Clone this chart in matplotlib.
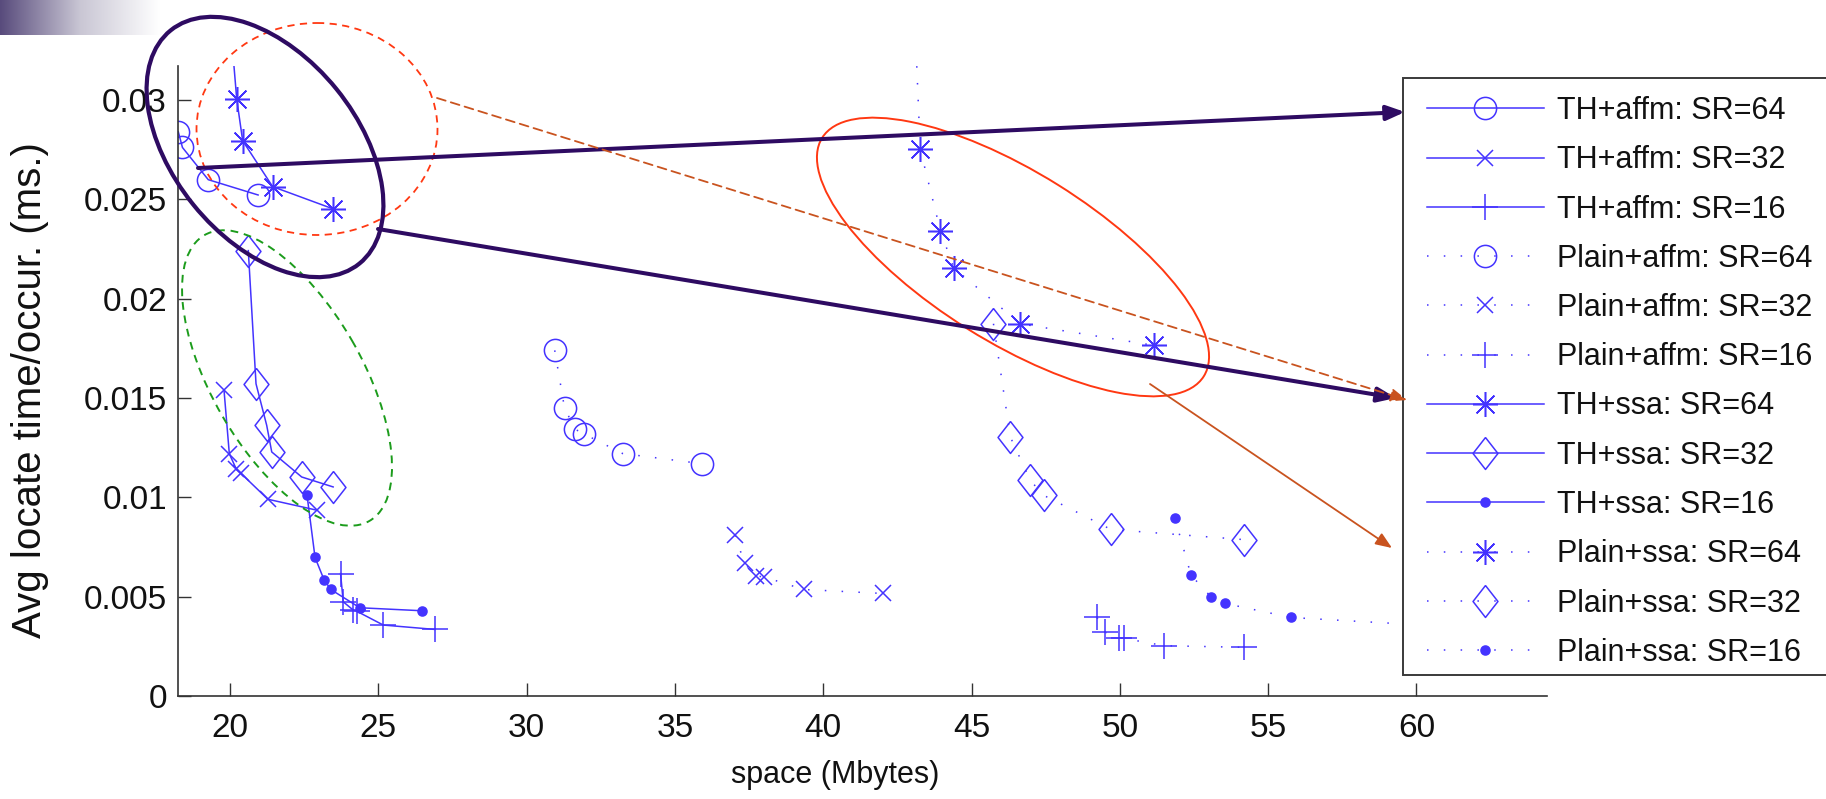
#!/usr/bin/env python3
# coding: utf-8
"""Avg locate time vs space for TH / Plain with affm and ssa, slide screenshot."""
import numpy as np
import matplotlib
matplotlib.use('AGG')
import matplotlib.pyplot as plt
from matplotlib.patches import Ellipse, Rectangle

plt.rcParams['font.family'] = ['Liberation Sans', 'DejaVu Sans']

# --- data (space in Mbytes, avg locate time per occurrence in ms) ---
th_affm_64_x = [18.26, 18.40, 19.27, 20.95]
th_affm_64_y = [0.02839, 0.02760, 0.02598, 0.02521]
th_affm_32_x = [19.80, 19.98, 20.22, 20.36, 21.28, 22.93]
th_affm_32_y = [0.01541, 0.01219, 0.01140, 0.01122, 0.00990, 0.00935]
th_affm_16_x = [23.73, 23.82, 24.16, 24.27, 25.17, 26.91]
th_affm_16_y = [0.00616, 0.00474, 0.00432, 0.00427, 0.00357, 0.00335]

plain_affm_64_x = [30.95, 31.28, 31.64, 31.92, 33.24, 35.91]
plain_affm_64_y = [0.01739, 0.01449, 0.01342, 0.01320, 0.01220, 0.01169]
plain_affm_32_x = [37.03, 37.35, 37.74, 37.99, 39.34, 42.01]
plain_affm_32_y = [0.00809, 0.00667, 0.00603, 0.00600, 0.00536, 0.00516]
plain_affm_16_x = [49.23, 49.51, 49.96, 50.13, 51.50, 54.18]
plain_affm_16_y = [0.00395, 0.00320, 0.00293, 0.00290, 0.00253, 0.00245]

th_ssa_64_x = [19.98, 20.23, 20.43, 21.44, 23.48]
th_ssa_64_y = [0.0345, 0.03003, 0.02794, 0.02563, 0.02451]
th_ssa_32_x = [20.62, 20.88, 21.24, 21.41, 22.42, 23.48]
th_ssa_32_y = [0.02241, 0.01571, 0.01362, 0.01228, 0.01102, 0.01052]
th_ssa_16_x = [22.60, 22.87, 23.17, 23.40, 24.38, 26.47]
th_ssa_16_y = [0.01010, 0.00697, 0.00586, 0.00536, 0.00444, 0.00429]

plain_ssa_64_x = [43.05, 43.27, 43.95, 44.40, 46.64, 51.16]
plain_ssa_64_y = [0.0355, 0.02752, 0.02342, 0.02154, 0.01873, 0.01764]
plain_ssa_32_x = [45.74, 46.31, 46.98, 47.43, 49.70, 54.18]
plain_ssa_32_y = [0.01873, 0.01303, 0.01085, 0.01010, 0.00838, 0.00787]
plain_ssa_16_x = [51.85, 52.40, 53.09, 53.54, 55.77, 61.50]
plain_ssa_16_y = [0.00898, 0.00608, 0.00496, 0.00466, 0.00395, 0.00346]

x_ticks = [20, 25, 30, 35, 40, 45, 50, 55, 60]
y_ticks = [0, 0.005, 0.01, 0.015, 0.02, 0.025, 0.03]
y_tick_labels = ['0', '0.005', '0.01', '0.015', '0.02', '0.025', '0.03']

W, H = 1826, 799
BLUE = '#4433ff'
PURPLE = '#2e0b62'
BURNT = '#c9531f'
RED = '#ff3812'
GREEN = '#1c9c1c'

# MATLAB-like markers
diamond = [(0, 1), (0.78, 0), (0, -1), (-0.78, 0), (0, 1)]
asterisk = (8, 2, 0)
dotted = (0, (1, 10))

series = [
    (th_affm_64_x, th_affm_64_y, '-', 'o', 16, 'TH+affm: SR=64'),
    (th_affm_32_x, th_affm_32_y, '-', 'x', 12, 'TH+affm: SR=32'),
    (th_affm_16_x, th_affm_16_y, '-', '+', 18.5, 'TH+affm: SR=16'),
    (plain_affm_64_x, plain_affm_64_y, dotted, 'o', 16, 'Plain+affm: SR=64'),
    (plain_affm_32_x, plain_affm_32_y, dotted, 'x', 12, 'Plain+affm: SR=32'),
    (plain_affm_16_x, plain_affm_16_y, dotted, '+', 18.5, 'Plain+affm: SR=16'),
    (th_ssa_64_x, th_ssa_64_y, '-', asterisk, 18, 'TH+ssa: SR=64'),
    (th_ssa_32_x, th_ssa_32_y, '-', diamond, 23, 'TH+ssa: SR=32'),
    (th_ssa_16_x, th_ssa_16_y, '-', 'o', 6.5, 'TH+ssa: SR=16'),
    (plain_ssa_64_x, plain_ssa_64_y, dotted, asterisk, 18, 'Plain+ssa: SR=64'),
    (plain_ssa_32_x, plain_ssa_32_y, dotted, diamond, 23, 'Plain+ssa: SR=32'),
    (plain_ssa_16_x, plain_ssa_16_y, dotted, 'o', 6.5, 'Plain+ssa: SR=16'),
]

fig = plt.figure(figsize=(W / 100, H / 100), dpi=100)
ax = fig.add_axes([178 / W, 1 - 696 / H, (1547 - 178) / W, (696 - 66) / H])

handles = []
for xs, ys, ls, mk, ms, label in series:
    filled = ms < 8  # the small dots are filled
    line, = ax.plot(xs, ys, linestyle=ls, color=BLUE, lw=1.1, marker=mk,
                    markersize=ms, markeredgewidth=1.1, markeredgecolor=BLUE,
                    markerfacecolor=BLUE if filled else 'none', label=label)
    handles.append(line)

ax.set_xlim(18.25, 64.4)
ax.set_ylim(0, 0.0317)
ax.set_xticks(x_ticks)
ax.set_xticklabels([str(v) for v in x_ticks])
ax.set_yticks(y_ticks)
ax.set_yticklabels(y_tick_labels)
ax.tick_params(direction='in', length=9.4, width=1.0, labelsize=24,
               color='#333333', labelcolor='#111111')
ax.tick_params(axis='x', pad=12)
ax.tick_params(axis='y', pad=8)
for side in ('top', 'right'):
    ax.spines[side].set_visible(False)
for side in ('left', 'bottom'):
    ax.spines[side].set_linewidth(1.2)
    ax.spines[side].set_color('#333333')

ax.set_xlabel('space (Mbytes)', fontsize=22, va='center', color='#111111')
ax.xaxis.set_label_coords((835 - 178) / (1547 - 178), (696 - 775) / 630)
ax.set_ylabel('Avg locate time/occur. (ms.)', fontsize=29, va='center',
              color='#111111')
ax.yaxis.set_label_coords((30 - 178) / (1547 - 178), (696 - 390) / 630)

# --- slide annotations, drawn in pixel space on an overlay ---
ov = fig.add_axes([0, 0, 1, 1], zorder=1)
ov.set_xlim(0, W)
ov.set_ylim(H, 0)
ov.axis('off')
ov.patch.set_alpha(0)

# title bar gradient in the corner
grad = np.linspace(0, 1, 256)[None, :]
ov.imshow(grad, cmap=matplotlib.colors.LinearSegmentedColormap.from_list(
    'bar', ['#584b7c', '#c9c6d4', '#ffffff']), extent=(0, 160, 35, 0),
    aspect='auto')

ov.add_patch(Ellipse((317, 129), 241, 212, fill=False, ec=RED, lw=1.3,
                     ls=(0, (4, 3))))
ov.add_patch(Ellipse((287, 378), 330, 150, angle=60, fill=False, ec=GREEN,
                     lw=1.4, ls=(0, (4, 3))))
ov.add_patch(Ellipse((1013, 257), 450, 170, angle=32, fill=False, ec=RED,
                     lw=1.4))
ov.add_patch(Ellipse((265, 147), 300, 184, angle=51, fill=False, ec=PURPLE,
                     lw=3.0))

head = '-|>,head_length=0.55,head_width=0.22'
ov.annotate('', xy=(1405, 112), xytext=(198, 168),
            arrowprops=dict(arrowstyle=head, color=PURPLE, lw=2.9,
                            mutation_scale=20, shrinkA=0, shrinkB=0))
ov.annotate('', xy=(1396, 398), xytext=(378, 229),
            arrowprops=dict(arrowstyle=head, color=PURPLE, lw=2.9,
                            mutation_scale=20, shrinkA=0, shrinkB=0))
ov.annotate('', xy=(1407, 400), xytext=(437, 98),
            arrowprops=dict(arrowstyle=head, color=BURNT, lw=1.3,
                            ls=(0, (5, 3)), mutation_scale=18,
                            shrinkA=0, shrinkB=0))
ov.annotate('', xy=(1392, 548), xytext=(1150, 384),
            arrowprops=dict(arrowstyle=head, color=BURNT, lw=1.3,
                            mutation_scale=18, shrinkA=0, shrinkB=0))

# legend frame (white box hides what runs behind it)
ov.add_patch(Rectangle((1403, 77.7), 450, 597.3, fc='white', ec='#3a3a3a',
                       lw=1.4))

fig.legend(handles=handles, loc='upper left',
           bbox_to_anchor=(1427 / W, 1 - 96 / H), frameon=False,
           borderpad=0, borderaxespad=0, fontsize=22, handlelength=3.82,
           handletextpad=0.42, labelspacing=0.63, labelcolor='#111111')

# caption cut by the bottom edge of the slide
fig.text(1340 / W, 1 - 803 / H, 'SR (sampling rate)        Mbytes',
         fontsize=28, va='top', ha='left', color='#111111')

fig.savefig('out.png', dpi=100)
